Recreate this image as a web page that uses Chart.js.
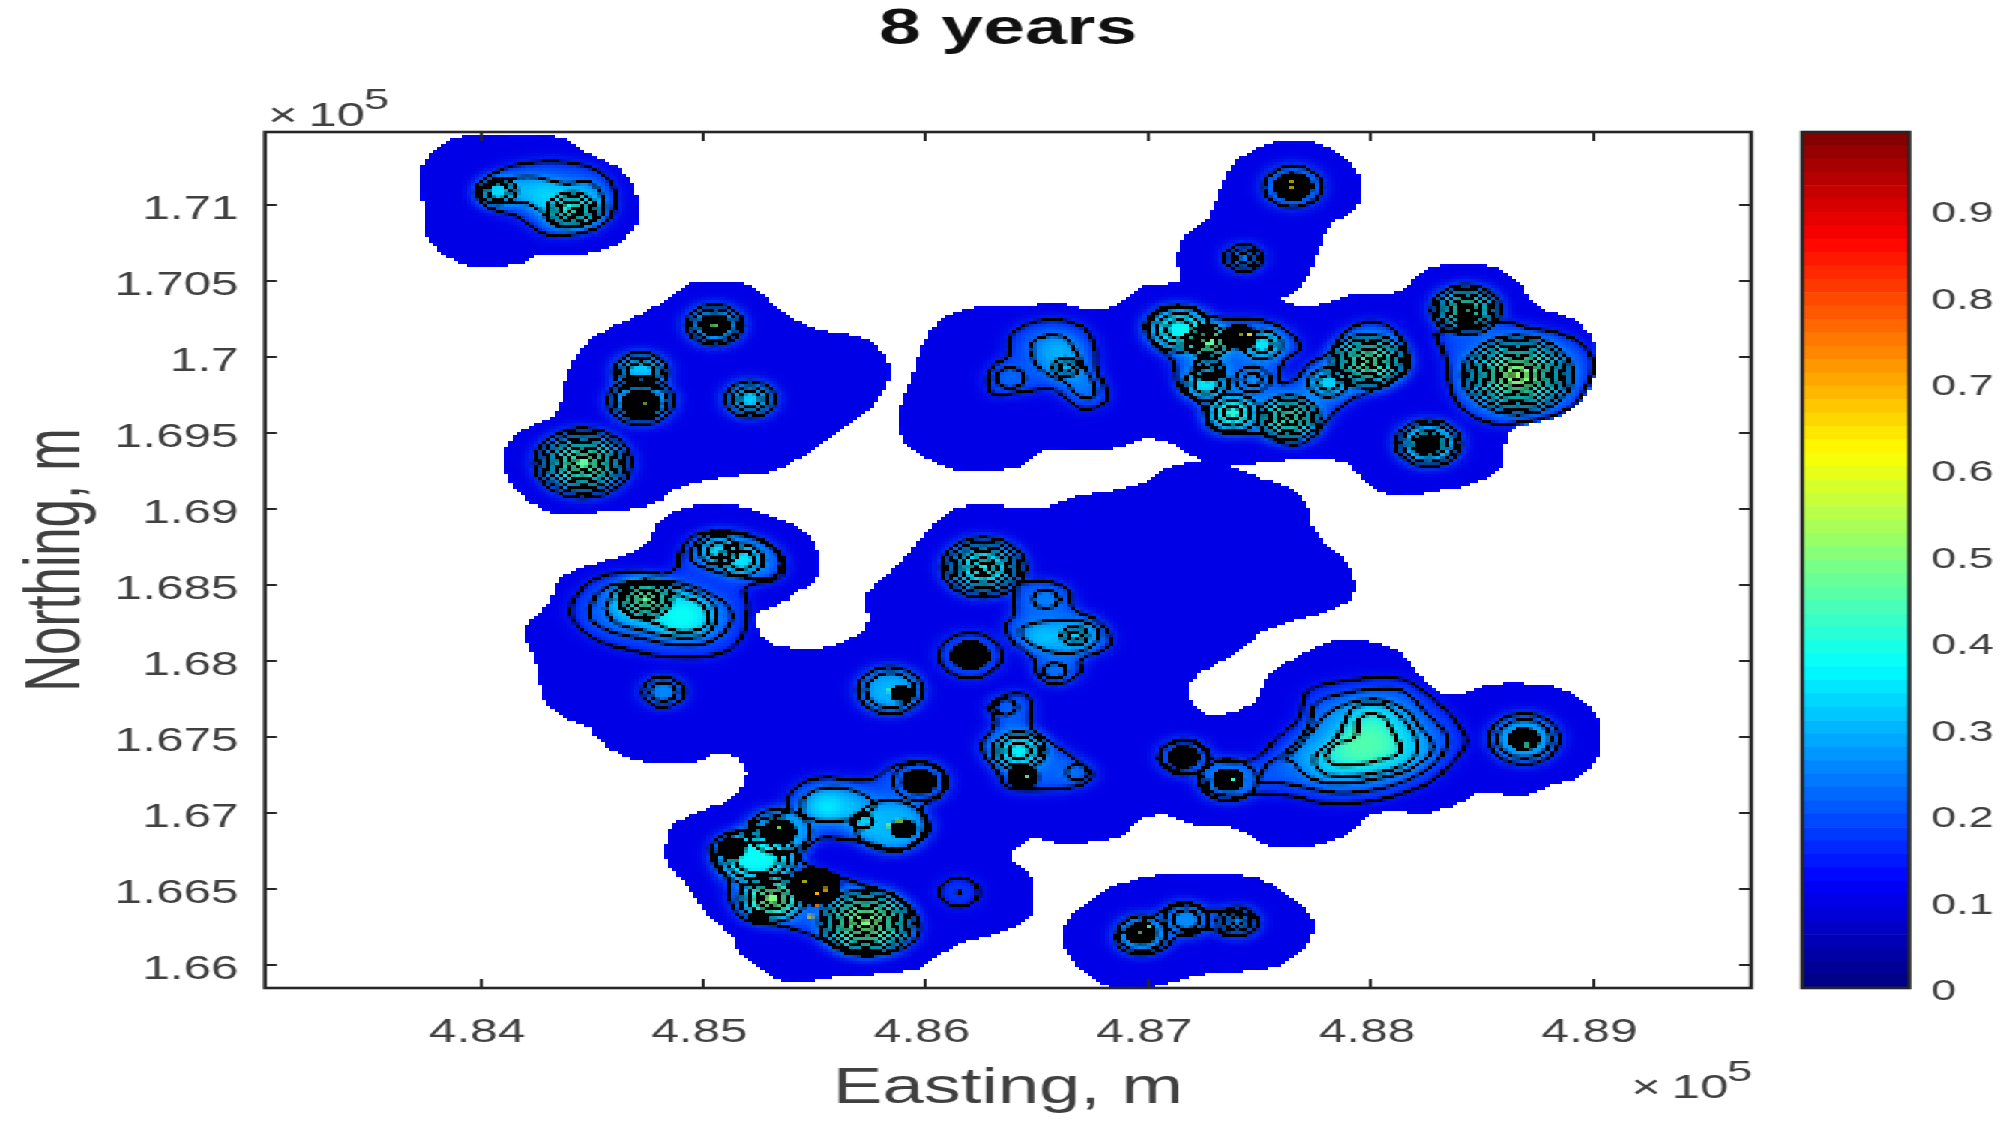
<!DOCTYPE html>
<html>
<head>
<meta charset="utf-8">
<title>8 years</title>
<script src="https://cdn.jsdelivr.net/npm/chart.js@4/dist/chart.umd.js"></script>
<style>
html, body { margin: 0; background: #fff; overflow: hidden; }
#sheet { position: absolute; left: 0; top: 0; width: 1334px; height: 1125px; transform: scaleX(1.4993); transform-origin: 0 0; }
#sheet canvas { position: absolute; left: 0; top: 0; }
#mapBox { position: absolute; left: 265px; top: 132px; width: 354px; height: 285px; transform: scale(4.198, 3.004); transform-origin: 0 0; }
#mapBox canvas { image-rendering: pixelated; }
</style>
</head>
<body>
<div id="mapBox"><canvas id="map" width="354" height="285"></canvas></div>
<div id="sheet">
  <canvas id="axes" width="1334" height="1125"></canvas>
  <canvas id="bar" width="1334" height="1125"></canvas>
</div>
<script>
// tick labels, all in units of 10^5 m
const eastingTicks = [4.84, 4.85, 4.86, 4.87, 4.88, 4.89];
const northingTicks = [1.66, 1.665, 1.67, 1.675, 1.68, 1.685, 1.69, 1.695, 1.7, 1.705, 1.71];
const colorbarTicks = [0, 0.1, 0.2, 0.3, 0.4, 0.5, 0.6, 0.7, 0.8, 0.9];
const colorbarEdges = [0, .0155, .0309, .0464, .0619, .0773, .0928, .1083, .1238, .1392, .1547, .1702, .1856, .2011, .2166, .2320,
  .2475, .2630, .2784, .2939, .3094, .3248, .3403, .3558, .3713, .3867, .4022, .4177, .4331, .4486, .4641, .4795,
  .4950, .5105, .5259, .5414, .5569, .5723, .5878, .6033, .6188, .6342, .6497, .6652, .6806, .6961, .7116, .7270,
  .7425, .7580, .7734, .7889, .8044, .8198, .8353, .8508, .8663, .8817, .8972, .9127, .9281, .9436, .9591, .9745, .99];

// edge of the mapped area, flat easting,northing lists
const landOutlines = [
  [4.8372,1.7116, 4.8375,1.7129, 4.8385,1.7142, 4.8395,1.7146, 4.8411,1.7146, 4.8420,1.7145, 4.8430,1.7146, 4.8440,1.7142, 4.8448,1.7134, 4.8463,1.7123,
   4.8469,1.7111, 4.8471,1.7090, 4.8464,1.7077, 4.8449,1.7068, 4.8427,1.7067, 4.8417,1.7061, 4.8397,1.7059, 4.8385,1.7066, 4.8375,1.7080, 4.8374,1.7100],
  [4.8495,1.7049, 4.8516,1.7049, 4.8526,1.7042, 4.8536,1.7029, 4.8551,1.7018, 4.8572,1.7012, 4.8581,1.7002, 4.8584,1.6987, 4.8576,1.6967, 4.8562,1.6952,
   4.8548,1.6937, 4.8532,1.6925, 4.8510,1.6921, 4.8489,1.6914, 4.8478,1.6903, 4.8459,1.6899, 4.8434,1.6897, 4.8419,1.6908, 4.8410,1.6928, 4.8415,1.6948,
   4.8434,1.6963, 4.8437,1.6980, 4.8442,1.6999, 4.8453,1.7015, 4.8476,1.7031],
  [4.8755,1.7141, 4.8775,1.7141, 4.8788,1.7132, 4.8796,1.7116, 4.8793,1.7096, 4.8782,1.7087, 4.8776,1.7068, 4.8772,1.7053, 4.8766,1.7042, 4.8759,1.7038,
   4.8771,1.7033, 4.8781,1.7036, 4.8791,1.7041, 4.8812,1.7043, 4.8825,1.7057, 4.8836,1.7061, 4.8853,1.7060, 4.8866,1.7050, 4.8875,1.7033, 4.8892,1.7024,
   4.8900,1.7011, 4.8900,1.6994, 4.8897,1.6976, 4.8886,1.6962, 4.8864,1.6953, 4.8860,1.6939, 4.8859,1.6928, 4.8854,1.6921, 4.8840,1.6914, 4.8810,1.6909,
   4.8797,1.6918, 4.8790,1.6929, 4.8777,1.6933, 4.8757,1.6931, 4.8738,1.6928, 4.8726,1.6930, 4.8714,1.6940, 4.8706,1.6945, 4.8698,1.6946, 4.8686,1.6940,
   4.8670,1.6938, 4.8654,1.6939, 4.8644,1.6928, 4.8632,1.6925, 4.8616,1.6925, 4.8600,1.6933, 4.8590,1.6945, 4.8588,1.6963, 4.8593,1.6983, 4.8599,1.7009,
   4.8605,1.7022, 4.8619,1.7032, 4.8644,1.7033, 4.8657,1.7036, 4.8675,1.7031, 4.8687,1.7035, 4.8697,1.7046, 4.8714,1.7050, 4.8713,1.7064, 4.8716,1.7079,
   4.8727,1.7092, 4.8734,1.7116, 4.8738,1.7127, 4.8747,1.7136],
  [4.8612,1.6900, 4.8627,1.6904, 4.8642,1.6900, 4.8655,1.6902, 4.8670,1.6909, 4.8688,1.6913, 4.8699,1.6918, 4.8707,1.6926, 4.8727,1.6931, 4.8738,1.6927,
   4.8751,1.6920, 4.8764,1.6913, 4.8771,1.6904, 4.8773,1.6893, 4.8777,1.6882, 4.8791,1.6862, 4.8792,1.6842, 4.8778,1.6832, 4.8766,1.6827, 4.8752,1.6820,
   4.8739,1.6805, 4.8724,1.6793, 4.8718,1.6783, 4.8720,1.6772, 4.8727,1.6765, 4.8739,1.6767, 4.8748,1.6774, 4.8754,1.6791, 4.8767,1.6803, 4.8784,1.6814,
   4.8800,1.6813, 4.8812,1.6807, 4.8819,1.6797, 4.8830,1.6780, 4.8842,1.6779, 4.8854,1.6785, 4.8875,1.6785, 4.8888,1.6781, 4.8897,1.6772, 4.8903,1.6759,
   4.8903,1.6739, 4.8894,1.6724, 4.8882,1.6719, 4.8869,1.6712, 4.8848,1.6713, 4.8839,1.6706, 4.8825,1.6700, 4.8807,1.6701, 4.8799,1.6698, 4.8791,1.6687,
   4.8779,1.6680, 4.8757,1.6678, 4.8749,1.6682, 4.8739,1.6690, 4.8722,1.6692, 4.8706,1.6699, 4.8697,1.6696, 4.8688,1.6685, 4.8678,1.6682, 4.8661,1.6680,
   4.8649,1.6684, 4.8643,1.6680, 4.8638,1.6671, 4.8647,1.6660, 4.8649,1.6638, 4.8645,1.6630, 4.8633,1.6621, 4.8616,1.6615, 4.8606,1.6606, 4.8595,1.6597,
   4.8558,1.6592, 4.8540,1.6589, 4.8528,1.6595, 4.8516,1.6608, 4.8513,1.6619, 4.8501,1.6634, 4.8493,1.6652, 4.8484,1.6667, 4.8483,1.6678, 4.8486,1.6691,
   4.8493,1.6698, 4.8503,1.6704, 4.8513,1.6710, 4.8518,1.6719, 4.8519,1.6728, 4.8515,1.6737, 4.8503,1.6738, 4.8498,1.6734, 4.8477,1.6733, 4.8462,1.6739,
   4.8452,1.6750, 4.8449,1.6757, 4.8437,1.6763, 4.8429,1.6773, 4.8426,1.6788, 4.8425,1.6798, 4.8421,1.6812, 4.8420,1.6823, 4.8426,1.6831, 4.8432,1.6842,
   4.8435,1.6854, 4.8444,1.6861, 4.8462,1.6869, 4.8474,1.6877, 4.8480,1.6892, 4.8486,1.6898, 4.8500,1.6903, 4.8517,1.6902, 4.8530,1.6896, 4.8543,1.6888,
   4.8551,1.6875, 4.8551,1.6855, 4.8545,1.6848, 4.8537,1.6840, 4.8524,1.6831, 4.8524,1.6823, 4.8530,1.6812, 4.8539,1.6809, 4.8555,1.6809, 4.8570,1.6818,
   4.8574,1.6827, 4.8573,1.6842, 4.8576,1.6849, 4.8589,1.6866, 4.8598,1.6882, 4.8611,1.6899],
  [4.8707,1.6660, 4.8725,1.6659, 4.8748,1.6658, 4.8760,1.6649, 4.8768,1.6641, 4.8774,1.6629, 4.8772,1.6614, 4.8758,1.6599, 4.8725,1.6594, 4.8700,1.6585,
   4.8684,1.6585, 4.8670,1.6597, 4.8662,1.6612, 4.8663,1.6628, 4.8672,1.6641, 4.8686,1.6653]
];

// larger contour lines and the value each one encloses, lowest first
const contourLevels = [0.2, 0.3, 0.2, 0.26, 0.21, 0.2, 0.18, 0.22, 0.28, 0.33, 0.22, 0.22, 0.28, 0.22, 0.2, 0.3, 0.2, 0.17, 0.22, 0.28, 0.33, 0.42];
const contourPaths = [
  [4.8399,1.7114, 4.8406,1.7121, 4.8419,1.7127, 4.8438,1.7128, 4.8453,1.7122, 4.8460,1.7110, 4.8460,1.7098, 4.8457,1.7090, 4.8449,1.7083, 4.8434,1.7080, 4.8427,1.7082, 4.8417,1.7092, 4.8404,1.7098, 4.8398,1.7106],
  [4.8400,1.7109, 4.8406,1.7115, 4.8417,1.7118, 4.8425,1.7118, 4.8438,1.7114, 4.8449,1.7115, 4.8455,1.7103, 4.8454,1.7093, 4.8446,1.7087, 4.8434,1.7086, 4.8427,1.7096, 4.8421,1.7101, 4.8408,1.7102, 4.8401,1.7103],
  [4.8628,1.6987, 4.8631,1.6995, 4.8637,1.7000, 4.8639,1.7015, 4.8653,1.7024, 4.8670,1.7020, 4.8676,1.7007, 4.8677,1.6991, 4.8681,1.6978, 4.8680,1.6969, 4.8670,1.6966, 4.8662,1.6974, 4.8657,1.6979, 4.8644,1.6977, 4.8631,1.6975, 4.8628,1.6982],
  [4.8648,1.7002, 4.8649,1.7011, 4.8660,1.7014, 4.8666,1.7007, 4.8670,1.6996, 4.8676,1.6980, 4.8675,1.6973, 4.8668,1.6975, 4.8663,1.6983, 4.8654,1.6989, 4.8649,1.6996],
  [4.8698,1.7020, 4.8704,1.7031, 4.8718,1.7033, 4.8729,1.7026, 4.8751,1.7024, 4.8764,1.7015, 4.8768,1.7005, 4.8761,1.6998, 4.8759,1.6983, 4.8766,1.6985, 4.8773,1.6996, 4.8781,1.7002, 4.8788,1.7015, 4.8799,1.7023, 4.8811,1.7017, 4.8817,1.6996, 4.8813,1.6987, 4.8801,1.6978, 4.8788,1.6969, 4.8779,1.6956, 4.8771,1.6944, 4.8760,1.6943, 4.8751,1.6949, 4.8729,1.6952, 4.8725,1.6967, 4.8714,1.6980, 4.8711,1.6998, 4.8703,1.7007],
  [4.8829,1.7015, 4.8860,1.7023, 4.8871,1.7019, 4.8886,1.7015, 4.8897,1.7005, 4.8900,1.6994, 4.8896,1.6978, 4.8888,1.6965, 4.8868,1.6957, 4.8855,1.6956, 4.8842,1.6965, 4.8836,1.6978, 4.8834,1.6998],
  [4.8441,1.6840, 4.8451,1.6854, 4.8466,1.6859, 4.8486,1.6859, 4.8491,1.6876, 4.8498,1.6884, 4.8515,1.6885, 4.8530,1.6877, 4.8536,1.6866, 4.8534,1.6855, 4.8519,1.6849, 4.8520,1.6836, 4.8517,1.6816, 4.8507,1.6805, 4.8485,1.6803, 4.8469,1.6807, 4.8451,1.6815, 4.8441,1.6829],
  [4.8449,1.6835, 4.8454,1.6847, 4.8466,1.6852, 4.8488,1.6852, 4.8505,1.6843, 4.8512,1.6834, 4.8512,1.6825, 4.8503,1.6813, 4.8488,1.6811, 4.8473,1.6815, 4.8458,1.6820, 4.8450,1.6827],
  [4.8456,1.6835, 4.8462,1.6849, 4.8475,1.6853, 4.8488,1.6849, 4.8502,1.6841, 4.8506,1.6831, 4.8501,1.6818, 4.8488,1.6816, 4.8471,1.6821, 4.8460,1.6826],
  [4.8462,1.6840, 4.8468,1.6851, 4.8479,1.6851, 4.8490,1.6843, 4.8499,1.6838, 4.8502,1.6827, 4.8498,1.6821, 4.8488,1.6820, 4.8477,1.6826, 4.8466,1.6831],
  [4.8494,1.6873, 4.8502,1.6884, 4.8515,1.6884, 4.8530,1.6876, 4.8535,1.6864, 4.8530,1.6855, 4.8515,1.6856, 4.8502,1.6861, 4.8495,1.6866],
  [4.8641,1.6851, 4.8653,1.6853, 4.8664,1.6847, 4.8666,1.6835, 4.8677,1.6827, 4.8683,1.6814, 4.8679,1.6807, 4.8670,1.6802, 4.8669,1.6792, 4.8658,1.6785, 4.8651,1.6790, 4.8648,1.6803, 4.8640,1.6812, 4.8636,1.6823, 4.8640,1.6831, 4.8640,1.6838],
  [4.8643,1.6823, 4.8657,1.6827, 4.8674,1.6825, 4.8678,1.6816, 4.8670,1.6807, 4.8658,1.6806, 4.8647,1.6812, 4.8643,1.6817],
  [4.8628,1.6770, 4.8636,1.6778, 4.8646,1.6777, 4.8647,1.6761, 4.8648,1.6755, 4.8657,1.6746, 4.8668,1.6735, 4.8675,1.6726, 4.8670,1.6719, 4.8655,1.6716, 4.8637,1.6717, 4.8633,1.6726, 4.8625,1.6744, 4.8631,1.6757, 4.8631,1.6763],
  [4.8503,1.6678, 4.8511,1.6687, 4.8523,1.6689, 4.8524,1.6695, 4.8538,1.6701, 4.8538,1.6711, 4.8550,1.6723, 4.8575,1.6722, 4.8587,1.6732, 4.8604,1.6732, 4.8609,1.6719, 4.8604,1.6709, 4.8598,1.6704, 4.8602,1.6689, 4.8589,1.6676, 4.8575,1.6680, 4.8558,1.6684, 4.8550,1.6682, 4.8544,1.6669, 4.8565,1.6656, 4.8587,1.6645, 4.8597,1.6628, 4.8593,1.6614, 4.8579,1.6608, 4.8563,1.6611, 4.8550,1.6619, 4.8538,1.6625, 4.8519,1.6630, 4.8512,1.6643, 4.8511,1.6656, 4.8505,1.6667],
  [4.8544,1.6701, 4.8546,1.6712, 4.8558,1.6717, 4.8571,1.6713, 4.8577,1.6705, 4.8569,1.6697, 4.8554,1.6695, 4.8547,1.6697],
  [4.8686,1.6620, 4.8703,1.6633, 4.8715,1.6641, 4.8727,1.6636, 4.8733,1.6636, 4.8749,1.6630, 4.8746,1.6621, 4.8735,1.6620, 4.8727,1.6624, 4.8713,1.6619, 4.8707,1.6611, 4.8696,1.6607, 4.8687,1.6612],
  [4.8705,1.6735, 4.8708,1.6745, 4.8722,1.6746, 4.8730,1.6735, 4.8748,1.6736, 4.8758,1.6750, 4.8767,1.6761, 4.8770,1.6774, 4.8773,1.6782, 4.8793,1.6788, 4.8812,1.6789, 4.8822,1.6782, 4.8833,1.6769, 4.8840,1.6757, 4.8843,1.6748, 4.8840,1.6739, 4.8828,1.6722, 4.8818,1.6715, 4.8800,1.6708, 4.8778,1.6707, 4.8766,1.6711, 4.8749,1.6713, 4.8740,1.6711, 4.8727,1.6715, 4.8725,1.6724, 4.8713,1.6728],
  [4.8749,1.6720, 4.8754,1.6733, 4.8761,1.6739, 4.8772,1.6757, 4.8775,1.6772, 4.8785,1.6778, 4.8804,1.6782, 4.8815,1.6780, 4.8825,1.6766, 4.8833,1.6754, 4.8834,1.6744, 4.8827,1.6731, 4.8813,1.6720, 4.8795,1.6714, 4.8781,1.6714, 4.8760,1.6720],
  [4.8761,1.6735, 4.8769,1.6746, 4.8776,1.6759, 4.8784,1.6769, 4.8801,1.6775, 4.8815,1.6769, 4.8822,1.6757, 4.8828,1.6744, 4.8822,1.6733, 4.8807,1.6724, 4.8781,1.6720, 4.8769,1.6727, 4.8765,1.6734],
  [4.8775,1.6739, 4.8784,1.6749, 4.8789,1.6762, 4.8793,1.6770, 4.8806,1.6771, 4.8815,1.6761, 4.8821,1.6746, 4.8818,1.6735, 4.8804,1.6727, 4.8781,1.6725, 4.8775,1.6732],
  [4.8780,1.6739, 4.8785,1.6746, 4.8793,1.6750, 4.8795,1.6763, 4.8804,1.6765, 4.8811,1.6751, 4.8813,1.6740, 4.8804,1.6735, 4.8793,1.6732, 4.8782,1.6733]
];

// brighter ground between the contours, no line of its own: easting, northing, radius, value
const softPatches = [
  [4.8430,1.7106,.0009,.33],[4.8490,1.6830,.0011,.38],[4.8556,1.6704,.0007,.36],[4.8660,1.7004,.0008,.30],[4.8653,1.6816,.0006,.33],[4.8515,1.6868,.0007,.35],[4.8797,1.6746,.0011,.45]
];

// round closed contours: easting, northing, radius (easting units), value
const spotRings = [
  [4.8441,1.7097,.0011,.33],[4.8441,1.7097,.0008,.37],[4.8441,1.7097,.0005,.42],[4.8442,1.7096,.0002,.47],
  [4.8408,1.7109,.0008,.30],[4.8408,1.7109,.0005,.37],
  [4.8505,1.7021,.00127,.24],[4.8505,1.7021,.0010,.30],
  [4.8472,1.6990,.00122,.25],[4.8472,1.6990,.0009,.30],[4.8472,1.6990,.0006,.35],
  [4.8472,1.6971,.0015,.22],[4.8472,1.6971,.0012,.30],
  [4.8521,1.6972,.00113,.25],[4.8521,1.6972,.0008,.30],[4.8521,1.6972,.0005,.35],
  [4.8446,1.6930,.0022,.20],[4.8446,1.6930,.0019,.25],[4.8446,1.6930,.0016,.30],[4.8446,1.6930,.0013,.35],[4.8446,1.6930,.0010,.40],[4.8446,1.6930,.0007,.45],[4.8446,1.6930,.0004,.50],
  [4.8765,1.7112,.0013,.26],[4.8743,1.7065,.00087,.20],[4.8743,1.7065,.0006,.25],[4.8743,1.7065,.0003,.30],
  [4.8638,1.6986,.00065,.23],[4.8663,1.6993,.0006,.30],[4.8663,1.6993,.0003,.36],
  [4.8714,1.7018,.0014,.30],[4.8714,1.7018,.0010,.35],[4.8714,1.7018,.0006,.38],
  [4.8727,1.7010,.0010,.40],[4.8727,1.7010,.0007,.45],[4.8727,1.7010,.0004,.52],
  [4.8751,1.7008,.0009,.33],[4.8751,1.7008,.0005,.38],
  [4.8727,1.6992,.0007,.30],[4.8727,1.6992,.0004,.35],
  [4.8726,1.6982,.0010,.30],[4.8726,1.6982,.0006,.38],
  [4.8747,1.6985,.0008,.25],[4.8747,1.6985,.0004,.28],
  [4.8738,1.6963,.0012,.30],[4.8738,1.6963,.0008,.38],[4.8738,1.6963,.0004,.45],
  [4.8763,1.6960,.0014,.30],[4.8763,1.6960,.0011,.34],[4.8763,1.6960,.0008,.38],[4.8763,1.6960,.0005,.45],[4.8763,1.6960,.0002,.50],
  [4.8781,1.6983,.0009,.30],[4.8781,1.6983,.0005,.37],
  [4.8799,1.6997,.0017,.30],[4.8799,1.6997,.0014,.33],[4.8799,1.6997,.0011,.37],[4.8799,1.6997,.0008,.42],[4.8799,1.6997,.0005,.48],[4.8799,1.6997,.0002,.52],
  [4.8843,1.7031,.00157,.22],[4.8843,1.7031,.0013,.30],[4.8843,1.7031,.0010,.33],[4.8843,1.7031,.0007,.40],[4.8843,1.7031,.0004,.50],[4.8843,1.7031,.0002,.55],
  [4.8866,1.6988,.0025,.27],[4.8866,1.6988,.0022,.30],[4.8866,1.6988,.0019,.33],[4.8866,1.6988,.0016,.36],[4.8866,1.6988,.0013,.40],[4.8866,1.6988,.0010,.45],[4.8866,1.6988,.0007,.52],[4.8866,1.6988,.0003,.56],
  [4.8826,1.6943,.00147,.22],[4.8826,1.6943,.0012,.30],[4.8826,1.6943,.0008,.36],
  [4.8474,1.6841,.0012,.35],[4.8474,1.6841,.0009,.40],[4.8474,1.6841,.0006,.45],[4.8474,1.6841,.0003,.55],
  [4.8507,1.6873,.0009,.30],[4.8507,1.6873,.0005,.40],[4.8517,1.6867,.0010,.30],[4.8517,1.6867,.0006,.37],
  [4.8482,1.6780,.00095,.22],[4.8482,1.6780,.0006,.28],
  [4.8584,1.6781,.00147,.25],[4.8584,1.6781,.0011,.30],
  [4.8620,1.6804,.00142,.20],
  [4.8626,1.6862,.0019,.22],[4.8626,1.6862,.0016,.26],[4.8626,1.6862,.0013,.30],[4.8626,1.6862,.0010,.34],[4.8626,1.6862,.0006,.38],[4.8626,1.6862,.0003,.43],
  [4.8654,1.6841,.0006,.26],[4.8667,1.6817,.0006,.33],[4.8667,1.6817,.0003,.36],[4.8658,1.6794,.0005,.25],
  [4.8636,1.6770,.0005,.22],[4.8642,1.6741,.0012,.30],[4.8642,1.6741,.0009,.34],[4.8642,1.6741,.0005,.38],[4.8668,1.6727,.0005,.25],
  [4.8597,1.6721,.0012,.22],
  [4.8584,1.6692,.0016,.30],[4.8571,1.6695,.0005,.37],
  [4.8534,1.6688,.0014,.30],
  [4.8524,1.6671,.0018,.30],[4.8524,1.6671,.0014,.35],[4.8524,1.6671,.0010,.38],
  [4.8531,1.6644,.0015,.30],[4.8531,1.6644,.0011,.38],[4.8531,1.6644,.0007,.48],[4.8531,1.6644,.0004,.57],
  [4.8573,1.6628,.0021,.28],[4.8573,1.6628,.0018,.33],[4.8573,1.6628,.0015,.38],[4.8573,1.6628,.0012,.42],[4.8573,1.6628,.0009,.46],[4.8573,1.6628,.0006,.50],[4.8573,1.6628,.0003,.52],
  [4.8615,1.6648,.0009,.18],[4.8615,1.6648,.0001,.22],
  [4.8697,1.6621,.0011,.30],
  [4.8717,1.6630,.0010,.24],[4.8717,1.6630,.0006,.27],
  [4.8740,1.6629,.0009,.22],[4.8740,1.6629,.0006,.26],[4.8740,1.6629,.0003,.28],
  [4.8716,1.6737,.0011,.22],[4.8736,1.6722,.0013,.25],
  [4.8869,1.6749,.0016,.22],[4.8869,1.6749,.0012,.30]
];

// patches enclosed so tightly that the lines run together: easting, northing, radius
const blackCores = [
  [4.8505,1.7021,.0007],[4.8472,1.6969,.0009],[4.8765,1.7112,.0009],[4.8741,1.7013,.0008],[4.8826,1.6943,.0006],[4.8843,1.7025,.0004],
  [4.8620,1.6804,.0009],[4.8589,1.6779,.0005],[4.8644,1.6724,.0007],[4.8597,1.6721,.0008],[4.8590,1.6690,.0006],[4.8534,1.6688,.0008],
  [4.8513,1.6677,.0006],[4.8550,1.6652,.0012],[4.8697,1.6621,.0007],[4.8716,1.6737,.0007],[4.8736,1.6722,.0007],[4.8869,1.6749,.0007],[4.8525,1.6632,.0004]
];

// bright single cells on top of the dark patches: easting, northing, value
const hotCells = [
  [4.8505,1.7021,.48],[4.8765,1.7116,.62],[4.8765,1.7112,.62],[4.8741,1.7014,.62],[4.8745,1.7015,.62],[4.8473,1.6970,.55],[4.8471,1.6974,.5],
  [4.8620,1.6804,.6],[4.8584,1.6781,.45],[4.8551,1.6647,.7],[4.8548,1.6632,.65],[4.8551,1.6640,.75],[4.8555,1.6650,.68],[4.8545,1.6656,.6],[4.8584,1.6692,.55],
  [4.8588,1.6695,.55],[4.8697,1.6621,.45],[4.8700,1.6625,.42],[4.8873,1.6749,.45],[4.8870,1.6745,.42],[4.8738,1.6722,.42],[4.8534,1.6690,.5],[4.8645,1.6724,.45]
];

const colorMax = 0.99;
const textColor = '#404040';
const font = 'Liberation Sans, Arial, sans-serif';
const lineWeight = 0.8;

// jet colormap
function jet(v) {
  const t = v / colorMax;
  const c = k => Math.round(255 * Math.min(1, Math.max(0, 1.5 - Math.abs(4 * t - k))));
  return 'rgb(' + c(3) + ',' + c(2) + ',' + c(1) + ')';
}

function closedPoints(flat) {
  const pts = [];
  for (let i = 0; i < flat.length; i += 2) pts.push({ x: flat[i], y: flat[i + 1] });
  pts.push(pts[0]);
  return pts;
}

// ring radius is in map units, so go through the scale to get pixels
function ringRadius(c) {
  if (!c.raw || !c.raw.r) return 0;
  const s = c.chart.scales.x;
  return Math.abs(s.getPixelForValue(c.raw.x + c.raw.r) - s.getPixelForValue(c.raw.x));
}

// has to run before the Filler so the filter is already set when the shape gets filled
const softField = {
  id: 'softField',
  beforeDatasetDraw(chart, args) {
    if (chart.data.datasets[args.index].soft) {
      chart.ctx.save();
      chart.ctx.filter = 'blur(2.2px)';
    }
  },
  afterDatasetDraw(chart, args) {
    if (chart.data.datasets[args.index].soft) chart.ctx.restore();
  }
};
Chart.unregister(Chart.Filler);
Chart.register(softField, Chart.Filler);

// harden the low resolution map: no half transparent edge, lines pure black
const hardCells = {
  id: 'hardCells',
  afterRender(chart) {
    const ctx = chart.ctx;
    const img = ctx.getImageData(0, 0, chart.width, chart.height);
    const d = img.data;
    for (let i = 0; i < d.length; i += 4) {
      if (d[i + 3] < 128) { d[i + 3] = 0; continue; }
      const a = d[i + 3] / 255;
      const m = Math.max(d[i], d[i + 1], d[i + 2]) / a;
      if (m < 135) { d[i] = d[i + 1] = d[i + 2] = 0; }
      else { d[i] /= a; d[i + 1] /= a; d[i + 2] /= a; }
      d[i + 3] = 255;
    }
    ctx.putImageData(img, 0, 0);
  }
};

const mapSets = [];
landOutlines.forEach(o => mapSets.push({
  data: closedPoints(o), showLine: true, fill: 'shape', backgroundColor: '#0000e6', borderWidth: 0, pointRadius: 0, tension: 0.3
}));
contourPaths.forEach((p, i) => mapSets.push({
  soft: true, data: closedPoints(p), showLine: true, fill: 'shape', backgroundColor: jet(contourLevels[i]), borderWidth: 0, pointRadius: 0, tension: 0.4
}));
const ringPoints = spotRings.map(r => ({ x: r[0], y: r[1], r: r[2], v: r[3] }));
mapSets.push({
  soft: true, data: softPatches.map(r => ({ x: r[0], y: r[1], r: r[2], v: r[3] })).concat(ringPoints), pointRadius: ringRadius, pointBorderWidth: 0,
  pointBackgroundColor: c => c.raw ? jet(c.raw.v) : 'transparent'
});
contourPaths.forEach(p => mapSets.push({
  data: closedPoints(p), showLine: true, fill: false, borderColor: '#000', borderWidth: lineWeight, pointRadius: 0, tension: 0.4
}));
mapSets.push({
  data: blackCores.map(r => ({ x: r[0], y: r[1], r: r[2] })), pointRadius: ringRadius, pointBorderWidth: 0, pointBackgroundColor: '#000'
});
mapSets.push({
  data: ringPoints, pointRadius: ringRadius, pointBorderWidth: lineWeight, pointBorderColor: '#000', pointBackgroundColor: 'transparent'
});
mapSets.push({
  data: hotCells.map(r => ({ x: r[0], y: r[1], v: r[2] })), pointStyle: 'rect', pointRadius: 0.9, pointBorderWidth: 0,
  pointBackgroundColor: c => c.raw ? jet(c.raw.v) : 'transparent'
});
mapSets.forEach((d, i) => { d.order = mapSets.length - i; });

new Chart(document.getElementById('map'), {
  type: 'scatter',
  data: { datasets: mapSets },
  plugins: [hardCells],
  options: {
    responsive: false,
    animation: false,
    events: [],
    layout: { padding: 0, autoPadding: false },
    plugins: { legend: { display: false }, tooltip: { enabled: false } },
    scales: {
      x: { display: false, min: 4.8303, max: 4.8971 },
      y: { display: false, min: 1.6585, max: 1.7148 }
    }
  }
});

// frame and the two offset labels
const plotFrame = {
  id: 'plotFrame',
  afterDraw(chart) {
    const { ctx, chartArea: a } = chart;
    ctx.save();
    ctx.strokeStyle = '#262626';
    ctx.lineWidth = 2.6;
    ctx.strokeRect(a.left, a.top, a.right - a.left, a.bottom - a.top);
    if (chart.canvas.id === 'axes') {
      ctx.fillStyle = textColor;
      ctx.textBaseline = 'alphabetic';
      const offsetLabel = (x, y) => {
        ctx.font = '34px ' + font;
        ctx.fillText('\u00d7', x, y);
        ctx.fillText('10', x + 27, y);
        ctx.font = '30px ' + font;
        ctx.fillText('5', x + 64, y - 17);
      };
      offsetLabel(a.left + 2, a.top - 6);
      offsetLabel(a.right - 80, a.bottom + 110);
    }
    ctx.restore();
  }
};

const fixedTicks = list => scale => { scale.ticks = list.map(v => ({ value: v })); };
const plain = v => String(+v.toFixed(3));
const tickLine = len => ({ drawOnChartArea: false, drawTicks: true, tickLength: len, color: '#262626', lineWidth: 2 });

new Chart(document.getElementById('axes'), {
  type: 'scatter',
  data: { datasets: [] },
  plugins: [plotFrame],
  options: {
    responsive: false,
    animation: false,
    events: [],
    layout: { padding: 0 },
    plugins: {
      legend: { display: false },
      tooltip: { enabled: false },
      title: { display: true, fullSize: false, text: '8 years', color: '#111', font: { family: font, size: 50, weight: 'bold', lineHeight: 1.2 }, padding: 0 }
    },
    scales: {
      x: {
        position: 'bottom', min: 4.8303, max: 4.8971, afterBuildTicks: fixedTicks(eastingTicks), afterFit: s => { s.height = 137; },
        border: { display: false }, grid: tickLine(-9),
        ticks: { autoSkip: false, maxRotation: 0, padding: 34, labelOffset: -2.5, color: textColor, font: { family: font, size: 33 }, callback: plain },
        title: { display: true, text: 'Easting, m', color: textColor, font: { family: font, size: 49.5, lineHeight: 1.2 }, padding: { top: 0, bottom: 6 } }
      },
      x2: {
        axis: 'x', position: 'top', min: 4.8303, max: 4.8971, afterBuildTicks: fixedTicks(eastingTicks), afterFit: s => { s.height = 72; },
        border: { display: false }, grid: tickLine(-9), ticks: { display: false }
      },
      y: {
        position: 'left', min: 1.6585, max: 1.7148, afterBuildTicks: fixedTicks(northingTicks), afterFit: s => { s.width = 176.7; },
        border: { display: false }, grid: tickLine(-8),
        ticks: { autoSkip: false, padding: 25.5, labelOffset: 5, color: textColor, font: { family: font, size: 33 }, callback: plain },
        title: { display: true, text: 'Northing, m', color: textColor, font: { family: font, size: 51, lineHeight: 1.2 }, padding: { top: 8, bottom: 0 } }
      },
      y2: {
        axis: 'y', position: 'right', min: 1.6585, max: 1.7148, afterBuildTicks: fixedTicks(northingTicks), afterFit: s => { s.width = 166; },
        border: { display: false }, grid: tickLine(-8), ticks: { display: false }
      }
    }
  }
});

new Chart(document.getElementById('bar'), {
  type: 'bar',
  data: {
    labels: [''],
    datasets: colorbarEdges.slice(0, -1).map((lo, i) => ({
      data: [[lo, colorbarEdges[i + 1]]],
      backgroundColor: jet((lo + colorbarEdges[i + 1]) / 2),
      borderWidth: 0
    }))
  },
  plugins: [plotFrame],
  options: {
    responsive: false,
    animation: false,
    events: [],
    layout: { padding: { left: 1202, top: 132, bottom: 137, right: 0 } },
    datasets: { bar: { grouped: false, barPercentage: 1, categoryPercentage: 1 } },
    plugins: { legend: { display: false }, tooltip: { enabled: false } },
    scales: {
      x: { display: false },
      y: {
        position: 'right', min: 0, max: colorMax, afterBuildTicks: fixedTicks(colorbarTicks), afterFit: s => { s.width = 60.5; },
        border: { display: false }, grid: tickLine(-5),
        ticks: { autoSkip: false, padding: 19.5, labelOffset: 4, color: textColor, font: { family: font, size: 30 }, callback: plain }
      }
    }
  }
});
</script>
</body>
</html>
